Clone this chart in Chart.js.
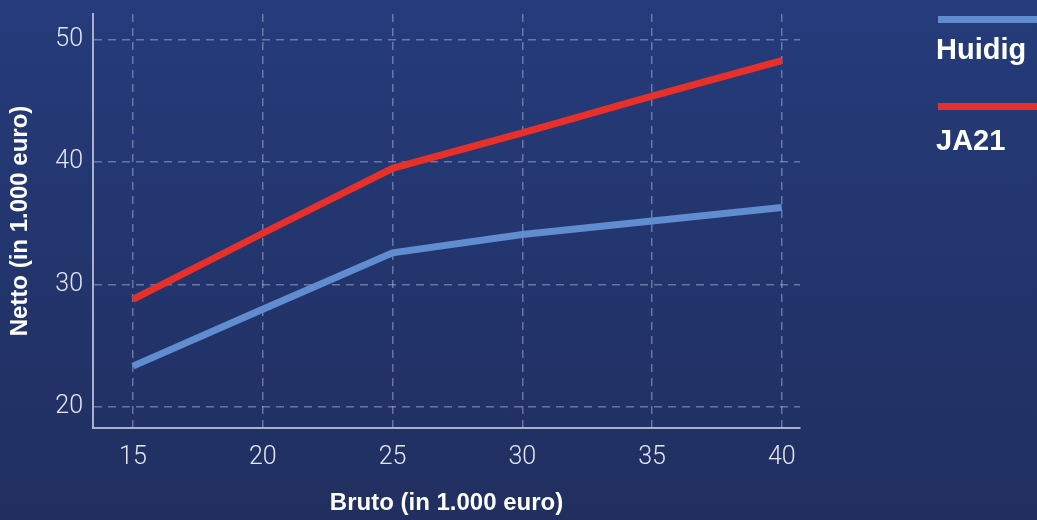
<!DOCTYPE html>
<html>
<head>
<meta charset="utf-8">
<script src="https://cdn.jsdelivr.net/npm/chart.js@4.4.1/dist/chart.umd.min.js"></script>
<style>
  html, body { margin: 0; padding: 0; }
  body { width: 1037px; height: 520px; overflow: hidden;
         background: linear-gradient(180deg, #253b7b 0%, #212f60 100%);
         font-family: "Liberation Sans", Arial, sans-serif; position: relative; }
  #wrap { position: absolute; left: 0; top: 0; width: 1037px; height: 520px; }
  #legend { position: absolute; left: 0; top: 0; width: 1037px; height: 520px; pointer-events: none; }
  .swatch { position: absolute; left: 938px; width: 99px; height: 7px; }
  .lbl { position: absolute; left: 936px; color: #ffffff; font-weight: bold; font-size: 29px; line-height: 29px; white-space: nowrap; }
</style>
</head>
<body>
<div id="wrap"><canvas id="c" width="1037" height="520"></canvas></div>
<div id="legend"></div>
<script>
const bruto = [15, 20, 25, 30, 35, 40];
const huidig = [23.35, 28.0, 32.6, 34.1, 35.2, 36.3];
const ja21 = [28.8, 34.2, 39.5, 42.4, 45.4, 48.3];
const xTicks = [15, 20, 25, 30, 35, 40];
const yTicks = [20, 30, 40, 50];
const seriesNames = ["Huidig", "JA21"];
const seriesColors = ["#5f8dd0", "#e8302a"];
const xTitle = "Bruto (in 1.000 euro)";
const yTitle = "Netto (in 1.000 euro)";

const toPts = vals => bruto.map((x, i) => ({ x: x, y: vals[i] }));
const datasets = [huidig, ja21].map((vals, i) => ({
  label: seriesNames[i],
  data: toPts(vals),
  borderColor: seriesColors[i],
  backgroundColor: seriesColors[i],
  borderWidth: 7,
  pointRadius: 0,
  tension: 0,
  borderCapStyle: 'butt',
  borderJoinStyle: 'miter'
}));

const gridColor = 'rgba(175,185,220,0.5)';
const tickFont = { family: 'Roboto, "Liberation Sans", Arial, sans-serif', size: 25, weight: '300' };
const titleFont = { family: '"Liberation Sans", Arial, sans-serif', size: 24, weight: 'bold' };

new Chart(document.getElementById('c'), {
  type: 'line',
  data: { datasets: datasets },
  options: {
    responsive: false,
    animation: false,
    events: [],
    layout: { padding: { left: 0, top: 14, right: 237, bottom: 0 } },
    plugins: { legend: { display: false }, tooltip: { enabled: false } },
    scales: {
      x: {
        type: 'linear',
        min: 13.46, max: 40.7,
        afterBuildTicks: s => { s.ticks = xTicks.map(v => ({ value: v })); },
        afterFit: s => { s.height = 92; s.paddingLeft = 0; s.paddingRight = 0; },
        grid: { color: gridColor, lineWidth: 1.5, drawTicks: false },
        border: { display: true, color: '#a9b0cc', width: 2, dash: [8, 6] },
        ticks: { color: '#e3e6f0', font: tickFont, padding: 15 },
        title: { display: true, text: xTitle, color: '#ffffff', font: titleFont, padding: { top: 0, bottom: 2 } }
      },
      y: {
        type: 'linear',
        min: 18.3, max: 52.1,
        afterBuildTicks: s => { s.ticks = yTicks.map(v => ({ value: v })); },
        afterFit: s => { s.width = 93; s.paddingTop = 0; s.paddingBottom = 0; },
        grid: { color: gridColor, lineWidth: 1.5, drawTicks: false },
        border: { display: true, color: '#a9b0cc', width: 2, dash: [8, 6] },
        ticks: { color: '#e3e6f0', font: tickFont, padding: 10 },
        title: { display: true, text: yTitle, color: '#ffffff', font: titleFont, padding: { top: 6, bottom: 0 } }
      }
    }
  },
  plugins: [{
    id: 'solidBorders',
    beforeDatasetsDraw(chart) {
      const { ctx, chartArea: a } = chart;
      ctx.save();
      ctx.strokeStyle = '#a9b0cc';
      ctx.lineWidth = 2;
      ctx.setLineDash([]);
      ctx.beginPath();
      ctx.moveTo(a.left, a.top);
      ctx.lineTo(a.left, a.bottom);
      ctx.lineTo(a.right, a.bottom);
      ctx.stroke();
      ctx.restore();
    }
  }]
});

const lg = document.getElementById('legend');
const swatchTops = [16, 103];
const labelTops = [35, 126];
datasets.forEach((d, i) => {
  const sw = document.createElement('div'); sw.className = 'swatch';
  sw.style.background = d.borderColor; sw.style.top = swatchTops[i] + 'px';
  const lb = document.createElement('div'); lb.className = 'lbl';
  lb.textContent = d.label; lb.style.top = labelTops[i] + 'px';
  lg.appendChild(sw); lg.appendChild(lb);
});
</script>
</body>
</html>
